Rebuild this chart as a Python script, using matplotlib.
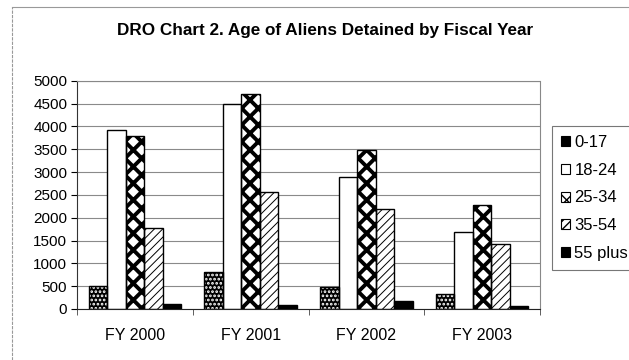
import matplotlib
matplotlib.use("Agg")
import matplotlib.pyplot as plt
import numpy as np
from matplotlib.lines import Line2D
from matplotlib.patches import Patch

plt.rcParams['font.family'] = ['Liberation Sans', 'DejaVu Sans']

categories = ["FY 2000", "FY 2001", "FY 2002", "FY 2003"]
series_names = ["0-17", "18-24", "25-34", "35-54", "55 plus"]
age_0_17 = [500, 800, 480, 330]
age_18_24 = [3920, 4500, 2900, 1680]
age_25_34 = [3780, 4700, 3490, 2270]
age_35_54 = [1780, 2570, 2190, 1430]
age_55_plus = [110, 95, 170, 70]
yticks = [0, 500, 1000, 1500, 2000, 2500, 3000, 3500, 4000, 4500, 5000]

series = [age_0_17, age_18_24, age_25_34, age_35_54, age_55_plus]
styles = [
    dict(face='black', hatch='....', hcol='white', hlw=1.3),
    dict(face='white', hatch=None, hcol='black', hlw=1.0),
    dict(face='white', hatch='xx', hcol='black', hlw=2.8),
    dict(face='white', hatch='////', hcol='black', hlw=0.7),
    dict(face='black', hatch=None, hcol='black', hlw=1.0),
]

fig = plt.figure(figsize=(6.29, 3.6), dpi=100)
ax = fig.add_axes([77/629, 1-309/360, (540-77)/629, (309-80.7)/360])

x = np.arange(len(categories))
w = 1/6.25
for i, (vals, st) in enumerate(zip(series, styles)):
    pos = x + (i - 2) * w
    with plt.rc_context({'hatch.linewidth': st['hlw'], 'hatch.color': st['hcol']}):
        ax.bar(pos, vals, width=w, color=st['face'], edgecolor=st['hcol'],
               hatch=st['hatch'], linewidth=0, zorder=2)
    ax.bar(pos, vals, width=w, color='none', edgecolor='black', linewidth=1.0, zorder=3)

ax.set_xlim(-0.5, len(categories) - 0.5)
ax.set_ylim(0, 5000)
ax.set_yticks(yticks)
ax.set_yticklabels([str(v) for v in yticks], fontsize=11)
ax.yaxis.grid(True, color='#8a8a8a', linewidth=0.8, zorder=0)
ax.set_axisbelow(True)
ax.set_xticks(np.arange(len(categories) + 1) - 0.5, minor=True)
ax.set_xticks(x)
ax.set_xticklabels(categories, fontsize=11.5)
ax.tick_params(axis='x', which='major', length=0, pad=14)
ax.tick_params(axis='x', which='minor', length=4, color='#444444')
ax.tick_params(axis='y', length=4, pad=3)
for s in ['top', 'right']:
    ax.spines[s].set_color('#888888')
    ax.spines[s].set_linestyle((0, (2, 1)))
    ax.spines[s].set_linewidth(0.8)
ax.spines['left'].set_color('#333333')
ax.spines['bottom'].set_color('#222222')

fig.text(0.517, 1-30/360, "DRO Chart 2. Age of Aliens Detained by Fiscal Year",
         ha='center', va='center', fontsize=12.3, fontweight='bold')

handles = []
for st in styles:
    with plt.rc_context({'hatch.linewidth': min(st['hlw'], 1.0), 'hatch.color': st['hcol']}):
        handles.append(Patch(facecolor=st['face'], edgecolor='black',
                             hatch=st['hatch'], linewidth=0.8))
leg = fig.legend(handles, series_names, loc='upper left',
                 bbox_to_anchor=(552/629, 1-126/360), fontsize=12,
                 frameon=True, fancybox=False, edgecolor='#555555',
                 handlelength=0.55, handleheight=0.55, handletextpad=0.25,
                 labelspacing=0.76, borderpad=0.55, borderaxespad=0)
leg.get_frame().set_linewidth(0.8)

fig.add_artist(Line2D([12/629, 12/629], [0, 1-7/360], color='#999999', linewidth=0.8,
                      linestyle=(0, (3, 1))))
fig.add_artist(Line2D([12/629, 1], [1-7/360, 1-7/360], color='#999999', linewidth=0.8))

fig.savefig("out.png", dpi=100)
